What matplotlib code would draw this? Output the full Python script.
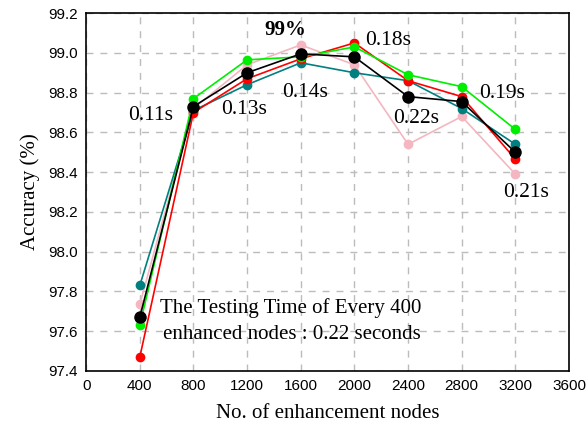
import matplotlib.pyplot as plt
import numpy as np

# data
nodes = [400, 800, 1200, 1600, 2000, 2400, 2800, 3200]
acc_red = [97.47, 98.70, 98.87, 98.97, 99.05, 98.86, 98.78, 98.465]
acc_green = [97.63, 98.77, 98.965, 98.98, 99.03, 98.89, 98.83, 98.615]
acc_teal = [97.83, 98.71, 98.84, 98.95, 98.90, 98.86, 98.72, 98.54]
acc_pink = [97.735, 98.72, 98.94, 99.04, 98.94, 98.54, 98.68, 98.39]
acc_black = [97.67, 98.73, 98.90, 98.995, 98.98, 98.78, 98.755, 98.50]

time_labels = ['0.11s', '0.13s', '0.14s', '0.18s', '0.22s', '0.19s', '0.21s']
time_pos = [(484, 98.687), (1181, 98.713), (1632, 98.80), (2251, 99.064),
            (2460, 98.67), (3098, 98.796), (3283, 98.30)]

serif = ['Liberation Serif', 'DejaVu Serif']
sans = ['Liberation Sans', 'DejaVu Sans']

#%% plot
fig = plt.figure(figsize=(5.86, 4.23), dpi=100)
ax = fig.add_axes([0.147, 0.123, 0.824, 0.846])

ax.plot(nodes, acc_pink, '-o', color='#f4b6c0', ms=6, lw=1.2)
ax.plot(nodes, acc_teal, '-o', color='#008080', ms=6, lw=1.2)
ax.plot(nodes, acc_red, '-o', color='#ff0000', ms=6, lw=1.2)
ax.plot(nodes, acc_green, '-o', color='#00ee00', ms=6, lw=1.2)
ax.plot(nodes, acc_black, '-o', color='black', ms=8, lw=1.2)

for lab, (xx, yy) in zip(time_labels, time_pos):
    ax.text(xx, yy, lab, family=serif, fontsize=15.5, ha='center', va='center')
ax.text(1487, 99.115, '99%', family=serif, fontsize=15, fontweight='bold',
        ha='center', va='center')
ax.text(552, 97.716, 'The Testing Time of Every 400', family=serif,
        fontsize=15, ha='left', va='center')
ax.text(572, 97.582, 'enhanced nodes : 0.22 seconds', family=serif,
        fontsize=15, ha='left', va='center')

ax.set_xlim(0, 3600)
ax.set_ylim(97.4, 99.2)
ax.set_xticks(np.arange(0, 3601, 400))
ax.set_yticks(np.arange(97.4, 99.21, 0.2))
ax.set_yticklabels(['%.1f' % v for v in np.arange(97.4, 99.21, 0.2)])
ax.tick_params(length=0, labelsize=11, pad=6)
for t in ax.get_xticklabels() + ax.get_yticklabels():
    t.set_family(sans)
ax.grid(True, color='#bcbcbc', ls=(0, (5, 5)), lw=1)
ax.set_axisbelow(True)
for s in ax.spines.values():
    s.set_linewidth(1.2)

ax.set_xlabel('No. of enhancement nodes', family=serif, fontsize=15, labelpad=8)
ax.set_ylabel('Accuracy (%)', family=serif, fontsize=15, labelpad=6)

fig.savefig('out.png', dpi=100)
